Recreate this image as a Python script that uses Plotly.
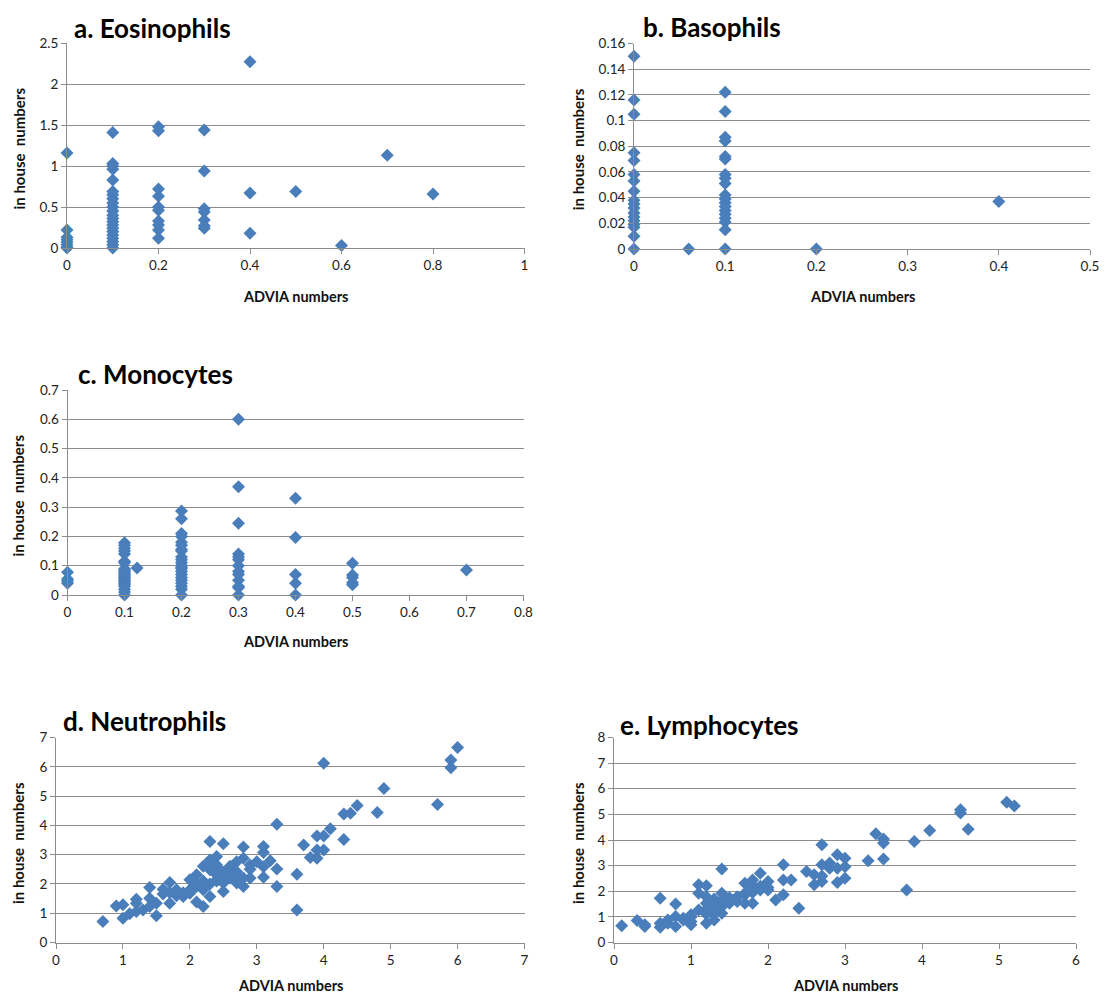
import plotly.graph_objects as go

W, H = 1119, 995

# ---------------- data ----------------
eos_x = [0]*8 + [0.1]*22 + [0.2]*10 + [0.3]*7 + [0.4]*3 + [0.5, 0.6, 0.7, 0.8]
eos_y = [1.16, 0.22, 0.13, 0.10, 0.07, 0.04, 0.01, 0.0,
         1.41, 1.03, 1.0, 0.96, 0.83, 0.69, 0.65, 0.6, 0.55, 0.5, 0.45, 0.4, 0.36, 0.32, 0.28, 0.24, 0.2, 0.16, 0.12, 0.08, 0.04, 0.0,
         1.48, 1.43, 0.72, 0.63, 0.5, 0.46, 0.33, 0.28, 0.22, 0.12,
         1.44, 0.94, 0.48, 0.44, 0.34, 0.27, 0.24,
         2.27, 0.67, 0.18,
         0.69, 0.03, 1.13, 0.66]

baso_x = [0]*18 + [0.06] + [0.1]*19 + [0.2, 0.4]
baso_y = [0.150, 0.116, 0.105, 0.075, 0.069, 0.058, 0.053, 0.045, 0.038, 0.035, 0.032, 0.028, 0.025, 0.022, 0.019, 0.017, 0.010, 0.0,
          0.0,
          0.122, 0.107, 0.087, 0.084, 0.072, 0.070, 0.058, 0.055, 0.051, 0.042, 0.039, 0.036, 0.033, 0.030, 0.027, 0.024, 0.021, 0.015, 0.0,
          0.0, 0.037]

mono_x = [0]*4 + [0.1]*23 + [0.122] + [0.2]*22 + [0.3]*13 + [0.4]*5 + [0.5]*5 + [0.7]
mono_y = [0.078, 0.055, 0.048, 0.040,
          0.178, 0.17, 0.16, 0.15, 0.14, 0.115, 0.11, 0.09, 0.085, 0.08, 0.075, 0.07, 0.065, 0.06, 0.055, 0.05, 0.045, 0.04, 0.035, 0.03, 0.02, 0.01, 0.0,
          0.092,
          0.287, 0.26, 0.21, 0.2, 0.18, 0.17, 0.155, 0.15, 0.13, 0.12, 0.11, 0.1, 0.095, 0.09, 0.08, 0.07, 0.06, 0.05, 0.04, 0.03, 0.02, 0.0,
          0.6, 0.37, 0.245, 0.14, 0.13, 0.12, 0.1, 0.08, 0.07, 0.05, 0.03, 0.025, 0.0,
          0.33, 0.196, 0.07, 0.04, 0.0,
          0.108, 0.068, 0.06, 0.042, 0.035,
          0.085]

neut_x = [0.7, 0.9, 1.0, 1.0, 1.1, 1.2, 1.2, 1.2, 1.3, 1.4,
          1.4, 1.4, 1.5, 1.5, 1.6, 1.6, 1.7, 1.7, 1.7, 1.8,
          1.9, 2.0, 2.0, 2.0, 2.1, 2.1, 2.1, 2.2, 2.2, 2.2,
          2.2, 2.3, 2.3, 2.3, 2.3, 2.4, 2.4, 2.4, 2.4, 2.5,
          2.5, 2.5, 2.5, 2.6, 2.6, 2.7, 2.7, 2.7, 2.8, 2.8,
          2.8, 2.9, 2.9, 3.0, 3.1, 3.1, 3.1, 3.1, 3.2, 3.3,
          3.3, 3.3, 3.6, 3.6, 3.7, 3.8, 3.9, 3.9, 3.9, 4.0,
          4.0, 4.0, 4.1, 4.3, 4.3, 4.4, 4.5, 4.8, 4.9, 5.7,
          5.9, 5.9, 6.0,
          1.9, 2.1, 2.2, 2.3, 2.4, 2.5, 2.6, 2.7, 2.8, 2.9, 2.3, 2.0, 1.8, 2.6, 2.4, 2.2]
neut_y = [0.72, 1.25, 1.29, 0.83, 0.98, 1.48, 1.06, 1.34, 1.11, 1.88,
          1.51, 1.23, 1.34, 0.91, 1.82, 1.66, 2.05, 1.34, 1.71, 1.80,
          1.57, 1.80, 2.14, 1.68, 1.91, 2.31, 1.38, 2.03, 1.91, 1.23,
          1.80, 1.57, 3.45, 2.82, 2.48, 2.14, 2.94, 2.31, 2.59, 2.03,
          3.37, 1.74, 2.25, 2.48, 2.20, 2.76, 2.42, 2.03, 3.26, 2.88,
          1.91, 2.65, 2.20, 2.76, 3.28, 3.07, 2.59, 2.23, 2.79, 4.04,
          2.51, 1.91, 2.33, 1.11, 3.33, 2.90, 3.64, 3.16, 2.88, 6.12,
          3.64, 3.16, 3.88, 4.39, 3.52, 4.41, 4.68, 4.44, 5.26, 4.71,
          5.97, 6.23, 6.66,
          1.70, 2.00, 2.10, 2.00, 2.65, 2.40, 2.60, 2.30, 2.20, 2.50, 2.70, 1.75, 1.60, 2.35, 2.10, 2.60]

lymph_x = [0.1, 0.3, 0.4, 0.4, 0.6, 0.6, 0.6, 0.7, 0.8, 0.8, 0.8, 0.9, 1.0, 1.0, 1.0, 1.1, 1.1, 1.1, 1.2, 1.2,
           1.2, 1.2, 1.3, 1.3, 1.3, 1.4, 1.4, 1.4, 1.4, 1.5, 1.5, 1.6, 1.7, 1.7, 1.7, 1.8, 1.8, 1.8, 1.9, 1.9,
           2.0, 2.0, 2.1, 2.2, 2.2, 2.2, 2.3, 2.4, 2.5, 2.6, 2.6, 2.7, 2.7, 2.7, 2.8, 2.9, 2.9, 2.9, 3.0, 3.0,
           3.0, 3.3, 3.4, 3.5, 3.5, 3.5, 3.8, 3.9, 4.1, 4.5, 4.5, 4.6, 5.1, 5.2,
           0.7, 0.9, 1.0, 1.2, 1.3, 1.3, 1.4, 1.5, 1.6, 1.7, 1.8, 1.9, 2.0, 1.2, 1.3, 1.5, 1.8, 2.7, 2.8]
lymph_y = [0.65, 0.86, 0.62, 0.69, 1.73, 0.60, 0.75, 0.88, 1.50, 0.62, 1.01, 0.88, 0.82, 0.69, 1.08, 2.25, 1.92, 1.27, 2.21, 0.75,
           1.53, 1.79, 1.14, 0.88, 1.53, 2.87, 1.92, 1.14, 1.40, 1.66, 1.53, 1.79, 2.31, 1.53, 1.92, 2.44, 1.53, 2.12, 2.70, 2.05,
           2.38, 2.05, 1.66, 3.03, 2.44, 1.86, 2.44, 1.34, 2.77, 2.25, 2.64, 3.81, 3.03, 2.38, 3.10, 3.42, 2.90, 2.34, 3.29, 2.96,
           2.51, 3.19, 4.24, 4.04, 3.88, 3.26, 2.05, 3.94, 4.37, 5.18, 5.05, 4.42, 5.47, 5.33,
           0.75, 0.95, 1.00, 1.30, 1.45, 1.70, 1.65, 1.75, 1.60, 1.85, 1.95, 2.20, 2.15, 1.10, 1.25, 1.60, 2.25, 2.60, 2.90]

titles = ["a. Eosinophils", "b. Basophils", "c. Monocytes", "d. Neutrophils", "e. Lymphocytes"]
xs_all = [eos_x, baso_x, mono_x, neut_x, lymph_x]
ys_all = [eos_y, baso_y, mono_y, neut_y, lymph_y]

# layout (pixels): plot box (left, right, top, bottom), ranges, steps, title pos, x-title y, y-title x
layout_px = [
    ((67, 524.5, 43, 248), (0, 1), 0.2, (0, 2.5), 0.5, (72, 28), 296, 18),
    ((634, 1090, 43.5, 249), (0, 0.5), 0.1, (0, 0.16), 0.02, (641, 27), 296, 578),
    ((67.5, 523.5, 390, 595), (0, 0.8), 0.1, (0, 0.7), 0.1, (76, 374), 641, 18),
    ((56, 524.5, 737.5, 942.5), (0, 7), 1, (0, 7), 1, (61, 721), 985, 18),
    ((614, 1076, 737.5, 942.5), (0, 6), 1, (0, 8), 1, (618, 725), 985, 578),
]

fig = go.Figure()
annotations = []
grid = "#8c8c8c"
FONT = "Lato, Carlito, Liberation Sans, sans-serif"
tickfont = dict(family=FONT, size=13.5, color="#222222")

for i in range(5):
    box, xr, dx, yr, dy, tpos, xty, ytx = layout_px[i]
    k = "" if i == 0 else str(i + 1)
    l, r, t, b = box
    fig.add_trace(go.Scatter(
        x=xs_all[i], y=ys_all[i], mode="markers", xaxis="x" + k, yaxis="y" + k,
        marker=dict(symbol="diamond", size=10, color="#4A7EBB", line=dict(width=0)),
        cliponaxis=False, showlegend=False, hoverinfo="x+y"))
    fig.layout["xaxis" + k] = dict(
        domain=[l / W, r / W], anchor="y" + k, range=list(xr), dtick=dx, tick0=0,
        showgrid=False, zeroline=False, showline=True, linecolor=grid, linewidth=1,
        ticks="outside", ticklen=5, tickcolor=grid, tickfont=tickfont, fixedrange=True,
        automargin=False)
    fig.layout["yaxis" + k] = dict(
        domain=[1 - b / H, 1 - t / H], anchor="x" + k, range=list(yr), dtick=dy, tick0=0,
        showgrid=True, gridcolor=grid, gridwidth=1, zeroline=False,
        showline=True, linecolor=grid, linewidth=1,
        ticks="outside", ticklen=5, tickcolor=grid, tickfont=tickfont, fixedrange=True,
        automargin=False)
    annotations.append(dict(text="<b>" + titles[i] + "</b>", x=tpos[0] / W, y=1 - tpos[1] / H,
                            xref="paper", yref="paper", xanchor="left", yanchor="middle",
                            showarrow=False, font=dict(family=FONT, size=26, color="#000")))
    annotations.append(dict(text="<b>ADVIA numbers</b>", x=(l + r) / 2 / W, y=1 - xty / H,
                            xref="paper", yref="paper", xanchor="center", yanchor="middle",
                            showarrow=False, font=dict(family=FONT, size=14.5, color="#111")))
    annotations.append(dict(text="<b>in house  numbers</b>", x=ytx / W, y=1 - ((t + b) / 2 + 3) / H,
                            xref="paper", yref="paper", xanchor="center", yanchor="middle", textangle=-90,
                            showarrow=False, font=dict(family=FONT, size=15, color="#111")))

fig.update_layout(width=W, height=H, margin=dict(l=0, r=0, t=0, b=0, pad=0, autoexpand=False),
                  paper_bgcolor="white", plot_bgcolor="white", annotations=annotations)

fig.write_html("out.html", config={"displayModeBar": False},
               post_script="document.body.style.margin='0';document.body.style.overflow='hidden';")
